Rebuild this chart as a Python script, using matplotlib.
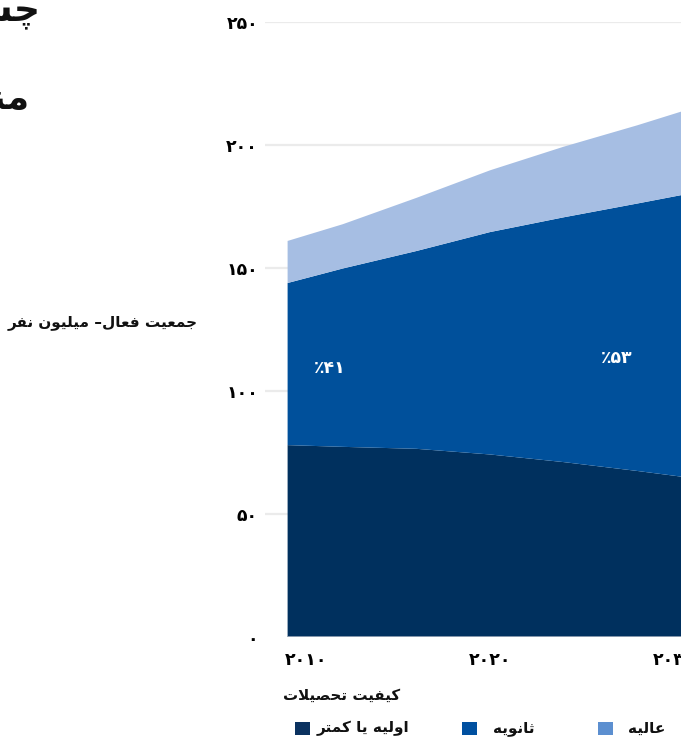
import matplotlib
matplotlib.use("Agg")
import matplotlib.pyplot as plt
from matplotlib.patches import Rectangle

# ---------------- data ----------------
years = [2009, 2012, 2016, 2020, 2024, 2028, 2031]
primary = [78.0, 77.3, 76.5, 74.2, 71.1, 67.5, 64.6]        # اولیه یا کمتر
secondary = [65.9, 72.5, 80.4, 90.4, 99.5, 108.7, 115.9]    # ثانویه
tertiary = [17.1, 18.0, 21.6, 25.1, 28.7, 31.8, 34.5]       # عالیه
series_names = ["اولیه یا کمتر", "ثانویه", "عالیه"]
x_ticks = [2010, 2020, 2030]
x_tick_labels = ["۲۰۱۰", "۲۰۲۰", "۲۰۳۰"]
y_ticks = [0, 50, 100, 150, 200, 250]
y_tick_labels = ["۰", "۵۰", "۱۰۰", "۱۵۰", "۲۰۰", "۲۵۰"]
share_labels = ["٪۴۱", "٪۵۳"]          # visual order
share_pos = [(2011.3, 109.3), (2026.9, 113.4)]
y_title = "جمعیت فعال– میلیون نفر"
legend_title = "کیفیت تحصیلات"
title_lines = ["چشم‌انداز جمعیت فعال", "منطقه"]

area_colors = ["#00305e", "#00509b", "#a6bee3"]
legend_colors = ["#0b3260", "#0050a0", "#5c8fd0"]

# ---------------- minimal Arabic/Persian shaping ----------------
FORMS = {
    'ا': ('\uFE8D', '\uFE8E', None, None), 'آ': ('\uFE81', '\uFE82', None, None),
    'ب': ('\uFE8F', '\uFE90', '\uFE91', '\uFE92'), 'پ': ('\uFB56', '\uFB57', '\uFB58', '\uFB59'),
    'ت': ('\uFE95', '\uFE96', '\uFE97', '\uFE98'), 'ث': ('\uFE99', '\uFE9A', '\uFE9B', '\uFE9C'),
    'ج': ('\uFE9D', '\uFE9E', '\uFE9F', '\uFEA0'), 'چ': ('\uFB7A', '\uFB7B', '\uFB7C', '\uFB7D'),
    'ح': ('\uFEA1', '\uFEA2', '\uFEA3', '\uFEA4'), 'خ': ('\uFEA5', '\uFEA6', '\uFEA7', '\uFEA8'),
    'د': ('\uFEA9', '\uFEAA', None, None), 'ذ': ('\uFEAB', '\uFEAC', None, None),
    'ر': ('\uFEAD', '\uFEAE', None, None), 'ز': ('\uFEAF', '\uFEB0', None, None),
    'ژ': ('\uFB8A', '\uFB8B', None, None),
    'س': ('\uFEB1', '\uFEB2', '\uFEB3', '\uFEB4'), 'ش': ('\uFEB5', '\uFEB6', '\uFEB7', '\uFEB8'),
    'ص': ('\uFEB9', '\uFEBA', '\uFEBB', '\uFEBC'), 'ض': ('\uFEBD', '\uFEBE', '\uFEBF', '\uFEC0'),
    'ط': ('\uFEC1', '\uFEC2', '\uFEC3', '\uFEC4'), 'ظ': ('\uFEC5', '\uFEC6', '\uFEC7', '\uFEC8'),
    'ع': ('\uFEC9', '\uFECA', '\uFECB', '\uFECC'), 'غ': ('\uFECD', '\uFECE', '\uFECF', '\uFED0'),
    'ف': ('\uFED1', '\uFED2', '\uFED3', '\uFED4'), 'ق': ('\uFED5', '\uFED6', '\uFED7', '\uFED8'),
    'ک': ('\uFB8E', '\uFB8F', '\uFB90', '\uFB91'), 'گ': ('\uFB92', '\uFB93', '\uFB94', '\uFB95'),
    'ل': ('\uFEDD', '\uFEDE', '\uFEDF', '\uFEE0'), 'م': ('\uFEE1', '\uFEE2', '\uFEE3', '\uFEE4'),
    'ن': ('\uFEE5', '\uFEE6', '\uFEE7', '\uFEE8'), 'و': ('\uFEED', '\uFEEE', None, None),
    'ه': ('\uFEE9', '\uFEEA', '\uFEEB', '\uFEEC'), 'ی': ('\uFBFC', '\uFBFD', '\uFBFE', '\uFBFF'),
    'ئ': ('\uFE89', '\uFE8A', '\uFE8B', '\uFE8C'),
}


def _dual(c):
    return c in FORMS and FORMS[c][2] is not None


def shape(text):
    ch = list(text)
    out = []
    i = 0
    n = len(ch)
    while i < n:
        c = ch[i]
        if c not in FORMS:
            if c != '\u200c':
                out.append(c)
            i += 1
            continue
        prev = ch[i - 1] if i > 0 else None
        pc = prev is not None and _dual(prev)
        if c == 'ل' and i + 1 < n and ch[i + 1] in ('ا', 'آ'):
            if ch[i + 1] == 'ا':
                out.append('\uFEFC' if pc else '\uFEFB')
            else:
                out.append('\uFEF6' if pc else '\uFEF5')
            i += 2
            continue
        nxt = ch[i + 1] if i + 1 < n else None
        nc = nxt is not None and nxt in FORMS and _dual(c)
        iso, fin, ini, med = FORMS[c]
        if pc and nc:
            g = med
        elif pc:
            g = fin
        elif nc:
            g = ini
        else:
            g = iso
        out.append(g)
        i += 1
    return ''.join(reversed(out))


# ---------------- figure ----------------
plt.rcParams['font.family'] = ['DejaVu Sans']
W, H = 681, 742
fig = plt.figure(figsize=(W / 100, H / 100), dpi=100)
fig.patch.set_facecolor('white')


def fx(px):
    return px / W


def fy(py):
    return 1 - py / H


ax_left, ax_right, ax_top, ax_bottom = 265, 681, 22, 637
ax = fig.add_axes([fx(ax_left), fy(ax_bottom), (ax_right - ax_left) / W, (ax_bottom - ax_top) / H])

# x scale: 2010 -> px 306, 18.4 px / year
px_per_year = 18.4
x0 = 2010 - (306 - ax_left) / px_per_year
x1 = 2010 + (ax_right - 306) / px_per_year
ax.set_xlim(x0, x1)
ax.set_ylim(0, 250)

ax.stackplot(years, primary, secondary, tertiary, colors=area_colors, linewidth=0, zorder=2)
ax.plot([years[0], years[-1]], [0, 0], color='#9fabbb', lw=1.2, zorder=3)

for s in ax.spines.values():
    s.set_visible(False)
ax.set_yticks(y_ticks)
ax.set_yticklabels(y_tick_labels, fontsize=12.5, fontweight='bold')
ax.set_xticks(x_ticks)
ax.set_xticklabels(x_tick_labels, fontsize=12.5, fontweight='bold')
ax.tick_params(axis='y', length=0, pad=5)
ax.tick_params(axis='x', length=0, pad=10)
ax.grid(axis='y', color='#ebebeb', lw=1.6, zorder=0)
ax.grid(axis='x', visible=False)
ax.set_axisbelow(True)
ax.yaxis.get_gridlines()[0].set_visible(False)

for lab, (xx, yy) in zip(share_labels, share_pos):
    ax.text(xx, yy, lab, color='white', fontsize=12.5, fontweight='bold',
            ha='center', va='center', zorder=4)

# y title
fig.text(fx(198), fy(322), shape(y_title), ha='right', va='center',
         fontsize=11, fontweight='bold', color='#111111')

# big title (cropped on the left)
fig.text(fx(40), fy(21), shape(title_lines[0]), ha='right', va='baseline',
         fontsize=26, fontweight='bold', color='#111111')
fig.text(fx(30), fy(109), shape(title_lines[1]), ha='right', va='baseline',
         fontsize=26, fontweight='bold', color='#111111')

# legend
fig.text(fx(283), fy(695), shape(legend_title), ha='left', va='center',
         fontsize=10.8, fontweight='bold', color='#111111')
sw_x = [295, 462, 598]
tx_x = [317, 493, 628]
for name, col, sx, tx in zip(series_names, legend_colors, sw_x, tx_x):
    fig.patches.append(Rectangle((fx(sx), fy(735)), 15 / W, 13 / H, transform=fig.transFigure,
                                 facecolor=col, edgecolor='none'))
    fig.text(fx(tx), fy(728), shape(name), ha='left', va='center',
             fontsize=11, fontweight='bold', color='#111111')

fig.savefig('out.png', dpi=100)
